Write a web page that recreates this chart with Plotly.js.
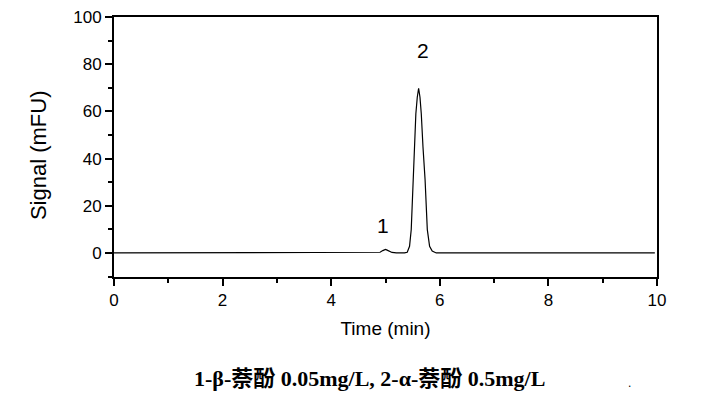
<!DOCTYPE html>
<html>
<head>
<meta charset="utf-8">
<script src="https://cdn.plot.ly/plotly-3.0.1.min.js"></script>
<style>html,body{margin:0;padding:0;background:#fff;}#chart{width:716px;height:393px;}</style>
</head>
<body>
<div id="chart"></div>
<script>
// Chromatogram
const timeMin = [0, 0.5, 1.0, 1.5, 1.58, 1.62, 1.7, 2.0, 2.4, 2.45, 2.5, 3.0, 3.5, 4.0, 4.5, 4.8, 4.85, 4.9, 4.95, 4.98, 5.0, 5.03, 5.07, 5.12, 5.2, 5.3, 5.35, 5.40, 5.443, 5.474, 5.504, 5.53, 5.559, 5.585, 5.61, 5.635, 5.659, 5.69, 5.729, 5.77, 5.812, 5.86, 5.935, 6.0, 6.1, 6.15, 6.5, 7.0, 7.5, 8.0, 8.5, 9.0, 9.5, 9.96];
const signal  = [0, 0, 0, 0, 0.2, 0.2, 0, 0, 0, 0.15, 0, 0, 0, 0, 0, 0, 0.05, 0.3, 1.0, 1.4, 1.5, 1.2, 0.6, 0.2, 0.05, 0.0, 0.0, 0.3, 2.8, 9.9, 28, 44, 59, 66, 69.8, 66, 59, 45, 31, 9.9, 2.8, 0.8, 0.0, 0.0, 0.15, 0.0, 0, 0, 0, 0, 0, 0, 0, 0];
const peakLabels = ["1", "2"];
const peakLabelX = [4.96, 5.69];
const peakLabelY = [11.5, 85.9];
const xTicks = [0, 2, 4, 6, 8, 10];
const yTicks = [0, 20, 40, 60, 80, 100];
const xTitle = "Time (min)";
const yTitle = "Signal (mFU)";
const caption = "1-β-萘酚 0.05mg/L, 2-α-萘酚 0.5mg/L";

const sans = "Liberation Sans, Arial, sans-serif";
const tickFont = {family: sans, size: 17, color: "#000"};

const trace = {
  x: timeMin, y: signal, type: "scatter", mode: "lines",
  line: {color: "#000", width: 1.2}, hoverinfo: "skip"
};

const annotations = peakLabels.map((t, i) => ({
  x: peakLabelX[i], y: peakLabelY[i], xref: "x", yref: "y",
  text: t, showarrow: false, font: {family: sans, size: 21, color: "#000"}
}));
annotations.push({
  xref: "paper", yref: "paper", x: 0, y: 0.469, xshift: -76,
  xanchor: "center", yanchor: "middle", showarrow: false, textangle: -90,
  text: yTitle, font: {family: sans, size: 22, color: "#000"}
});
annotations.push({
  xref: "paper", yref: "paper", x: 0.47, y: -0.39,
  xanchor: "center", yanchor: "middle", showarrow: false,
  text: "<b>" + caption + "</b>",
  font: {family: "Liberation Serif, Times New Roman, Noto Sans CJK SC, serif", size: 22, color: "#000"}
});
annotations.push({
  xref: "paper", yref: "paper", x: 0.95, y: -0.442,
  xanchor: "center", yanchor: "bottom", showarrow: false,
  text: ".", font: {family: sans, size: 12, color: "#000"}
});

const layout = {
  width: 716, height: 393,
  margin: {l: 114, r: 59, t: 17, b: 116},
  paper_bgcolor: "#fff", plot_bgcolor: "#fff",
  showlegend: false,
  font: tickFont,
  xaxis: {
    range: [0, 10], tickvals: xTicks, ticktext: xTicks.map(String),
    showline: true, linewidth: 2, linecolor: "#000", mirror: true,
    ticks: "outside", ticklen: 7, tickwidth: 2, tickcolor: "#000",
    minor: {dtick: 1, tick0: 0, ticks: "outside", ticklen: 4, tickwidth: 2, tickcolor: "#000", showgrid: false},
    showgrid: false, zeroline: false, tickfont: tickFont,
    title: {text: xTitle, font: {family: sans, size: 19, color: "#000"}, standoff: 12}
  },
  yaxis: {
    range: [-10.2, 100], tickvals: yTicks, ticktext: yTicks.map(String),
    showline: true, linewidth: 2, linecolor: "#000", mirror: true,
    ticks: "outside", ticklen: 7, tickwidth: 2, tickcolor: "#000",
    minor: {dtick: 10, tick0: 0, ticks: "outside", ticklen: 4, tickwidth: 2, tickcolor: "#000", showgrid: false},
    showgrid: false, zeroline: false, tickfont: tickFont
  },
  annotations: annotations
};

Plotly.newPlot("chart", [trace], layout, {displayModeBar: false, staticPlot: true});
</script>
</body>
</html>
